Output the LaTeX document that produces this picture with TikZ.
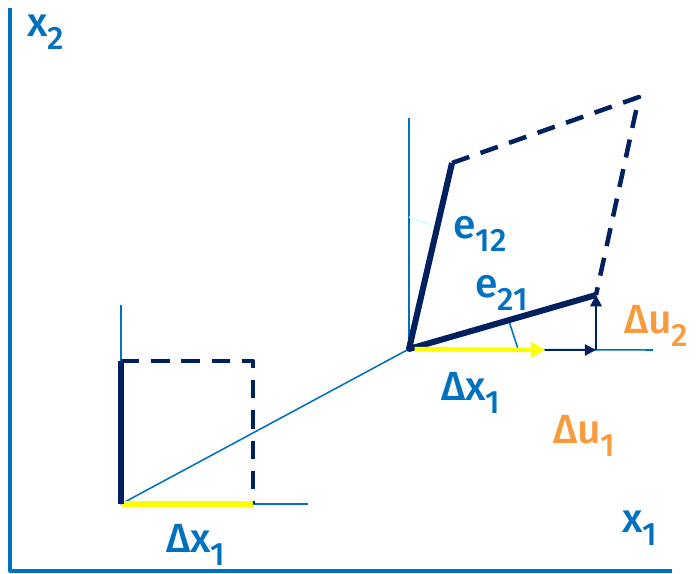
\documentclass[tikz,border=0pt]{standalone}
\usepackage{fontspec}
\setmainfont{Fira Sans}[BoldFont={Fira Sans Medium}]
\usetikzlibrary{arrows.meta}
\definecolor{axisblue}{HTML}{0070C0}
\definecolor{navy}{HTML}{002060}
\definecolor{hiyellow}{HTML}{FFFF00}
\definecolor{duorange}{HTML}{F99A3C}
\definecolor{palecyan}{HTML}{CCFFFF}
\newcommand{\lowidx}[1]{\raisebox{-0.32em}{\fontsize{23}{23}\selectfont #1}}
\tikzset{
  thinax/.style={axisblue, line width=1.1pt},
  solidedge/.style={navy, line width=4.3pt},
  dashedge/.style={navy, line width=3.2pt, dash pattern=on 13pt off 8.5pt},
  lbl/.style={anchor=base west, inner sep=0pt, font=\bfseries\fontsize{29}{30}\selectfont},
}
\begin{document}
\begin{tikzpicture}[x=0.025cm, y=-0.025cm, line join=round]
        \useasboundingbox (0,0) rectangle (698,573);
        % axes
        \coordinate (top) at (10,8);
        \coordinate (org) at (10,571);
        \coordinate (rgt) at (672,571);
        \draw[axisblue, line width=2.2pt] (top) -- (org) -- (rgt);
        % undeformed element
        \coordinate (a0) at (121,504);
        \coordinate (a1) at (121,361);
        \coordinate (a2) at (253,361);
        \coordinate (a3) at (253,504);
        \coordinate (a0t) at (121,305);
        \coordinate (a3r) at (308,504);
        % deformed element
        \coordinate (b0) at (409,349);
        \coordinate (b1) at (452,163);
        \coordinate (b2) at (639,97);
        \coordinate (b3) at (596,295);
        \coordinate (b0t) at (409,118);
        \coordinate (b0r) at (653,350);
        \coordinate (dx) at (545,350);
        \coordinate (du) at (596,350);
        \coordinate (m12a) at (409,217);
        \coordinate (m12b) at (440,228);
        \coordinate (m21a) at (518,349);
        \coordinate (m21b) at (508,318);
        % thin guides
        \draw[thinax] (a0t) -- (a0) -- (a3r);
        \draw[thinax] (b0t) -- (b0) -- (b0r);
        \draw[thinax] (a0) -- (b0);
        \draw[thinax] (m21a) -- (m21b);
        \draw[palecyan, line width=1pt] (m12a) -- (m12b);
        % element edges
        \draw[dashedge] (a1) -- (a2) -- (a3);
        \draw[dashedge] (b1) -- (b2) -- (b3);
        \draw[hiyellow, line width=4.3pt] (a0) -- (a3);
        \draw[solidedge] (a0) -- (a1);
        \draw[solidedge] (b1) -- (b0) -- (b3);
        % displacement arrows
        \draw[hiyellow, line width=3.2pt, -{Triangle[length=10pt, width=11pt]}] ([xshift=4pt]b0) -- (dx);
        \draw[navy, line width=1.6pt, -{Triangle[length=8pt, width=8pt]}] (dx) -- (du);
        \draw[navy, line width=1.6pt, -{Triangle[length=8pt, width=8pt]}] (du) -- (b3);
        % labels
        \node[lbl, axisblue] (lx2) at (27,36) {x\lowidx{2}};
        \node[lbl, axisblue] (lx1) at (622,532) {x\lowidx{1}};
        \node[lbl, axisblue] (ldxa) at (166,552) {Δx\lowidx{1}};
        \node[lbl, axisblue] (ldxb) at (441,400) {Δx\lowidx{1}};
        \node[lbl, duorange] (ldu1) at (553,443) {Δu\lowidx{1}};
        \node[lbl, duorange] (ldu2) at (624,333) {Δu\lowidx{2}};
        \node[lbl, axisblue] (le12) at (453,238) {e\lowidx{12}};
        \node[lbl, axisblue] (le21) at (475,297) {e\lowidx{21}};
\end{tikzpicture}
\end{document}
